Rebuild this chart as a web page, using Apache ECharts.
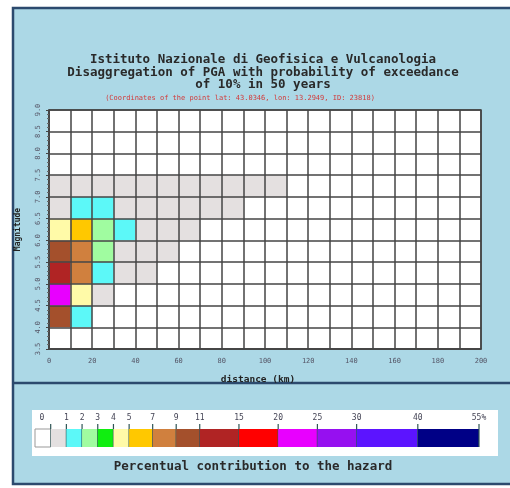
<!DOCTYPE html>
<html lang="en">
<head>
<meta charset="UTF-8">
<script src="https://cdn.jsdelivr.net/npm/echarts@6/dist/echarts.min.js"></script>
<title>Disaggregation</title>
</head>
<body style="margin:0;background:#fff;overflow:hidden;">
<div id="main" style="width:510px;height:488px;"></div>
<script>
// lower edge of each magnitude bin that has some contribution
var magnitudeBins = [4.0, 4.5, 5.0, 5.5, 6.0, 6.5, 7.0];
// contribution (%) for each magnitude bin, one value per 10 km distance bin starting at 0 km
var contribution = [
    [9.3, 1.2],
    [20.8, 4.1, 0.3],
    [12.1, 7.3, 1.5, 0.3, 0.3],
    [9.6, 7.6, 2.2, 0.3, 0.3, 0.3],
    [4.3, 5.6, 2.4, 1.3, 0.3, 0.3, 0.3],
    [0.3, 1.4, 1.1, 0.3, 0.3, 0.3, 0.3, 0.3, 0.3],
    [0.3, 0.3, 0.3, 0.3, 0.3, 0.3, 0.3, 0.3, 0.3, 0.3, 0.3]
];
// colour scale: first entry is exactly 0, then (edge[i-1], edge[i]]
var legendEdges = [0, 1, 2, 3, 4, 5, 7, 9, 11, 15, 20, 25, 30, 40, 55];
var legendLabels = ['0', '1', '2', '3', '4', '5', '7', '9', '11', '15', '20', '25', '30', '40', '55%'];
var legendColors = ['#ffffff', '#e4e0e0', '#5cf8f8', '#a0fca0', '#10ee10', '#fffaa8', '#ffc800',
    '#d0803e', '#a4502c', '#b02424', '#ff0000', '#e800ff', '#9610f0', '#5c14ff', '#000086'];

var distStep = 10, magStep = 0.5;
var mono = '"DejaVu Sans Mono", monospace';

function colorOf(v) {
    if (v <= 0) return legendColors[0];
    for (var i = 1; i < legendEdges.length; i++) {
        if (v <= legendEdges[i]) return legendColors[i];
    }
    return legendColors[legendColors.length - 1];
}

var cells = [];
magnitudeBins.forEach(function (m, r) {
    contribution[r].forEach(function (v, c) {
        cells.push([c * distStep, m, v]);
    });
});

// legend boxes are wider for wider classes (layout only)
function slotWidth(span) {
    if (span <= 1) return 1;
    if (span <= 2) return 1.5;
    if (span <= 5) return 2.5;
    return 3.9;
}
var legendBoxes = [];
var pos = 0;
legendColors.forEach(function (c, i) {
    var w = i === 0 ? 1 : slotWidth(legendEdges[i] - legendEdges[i - 1]);
    legendBoxes.push([pos, pos + w, i]);
    pos += w;
});
var legendTotal = pos;

var myChart = echarts.init(document.getElementById('main'));
var option = {
    animation: false,
    graphic: [
        { type: 'rect', z: -2, shape: { x: 13, y: 8, width: 700, height: 476 },
          style: { fill: '#acd8e6', stroke: '#2c4a6e', lineWidth: 2.5 } },
        { type: 'line', z: -1, shape: { x1: 13, y1: 383, x2: 600, y2: 383 },
          style: { stroke: '#2c4a6e', lineWidth: 2.5 } },
        { type: 'rect', z: -1, shape: { x: 32, y: 410, width: 466, height: 46 },
          style: { fill: '#ffffff' } },
        { type: 'text', x: 263, y: 60, style: { text: 'Istituto Nazionale di Geofisica e Vulcanologia',
          font: 'bold 12.5px ' + mono, fill: '#2a2a2a', align: 'center', verticalAlign: 'middle' } },
        { type: 'text', x: 263, y: 73, style: { text: 'Disaggregation of PGA with probability of exceedance',
          font: 'bold 12.5px ' + mono, fill: '#2a2a2a', align: 'center', verticalAlign: 'middle' } },
        { type: 'text', x: 263, y: 85, style: { text: 'of 10% in 50 years',
          font: 'bold 12.5px ' + mono, fill: '#2a2a2a', align: 'center', verticalAlign: 'middle' } },
        { type: 'text', x: 240, y: 98, style: { text: '(Coordinates of the point lat: 43.0346, lon: 13.2949, ID: 23818)',
          font: '7px ' + mono, fill: '#d23a3a', align: 'center', verticalAlign: 'middle' } },
        { type: 'text', x: 253, y: 467, style: { text: 'Percentual contribution to the hazard',
          font: 'bold 12.5px ' + mono, fill: '#2a2a2a', align: 'center', verticalAlign: 'middle' } }
    ],
    grid: [
        { left: 49, top: 110, width: 432, height: 239, show: true, backgroundColor: '#fff',
          borderColor: '#444', borderWidth: 1.5 },
        { left: 35, top: 429, width: 444, height: 18 }
    ],
    xAxis: [
        {
            type: 'value', min: 0, max: 200, interval: 20, z: 3,
            name: 'distance (km)', nameLocation: 'middle', nameGap: 26,
            nameTextStyle: { fontFamily: mono, fontWeight: 'bold', fontSize: 9.5, color: '#222', padding: [0, 14, 0, 0] },
            axisLine: { lineStyle: { color: '#444', width: 1.5 } },
            axisTick: { show: false },
            axisLabel: { fontFamily: mono, fontSize: 7, color: '#556', margin: 9 },
            splitLine: { show: true, lineStyle: { color: '#444', width: 1.5 } },
            minorTick: { show: false, splitNumber: 2 },
            minorSplitLine: { show: true, lineStyle: { color: '#444', width: 1.5 } }
        },
        { gridIndex: 1, type: 'value', min: 0, max: legendTotal, show: false }
    ],
    yAxis: [
        {
            type: 'value', min: 3.5, max: 9.0, interval: 0.5, z: 3,
            name: 'Magnitude', nameLocation: 'middle', nameGap: 27, nameRotate: 90,
            nameTextStyle: { fontFamily: mono, fontWeight: 'bold', fontSize: 8, color: '#222' },
            axisLine: { show: true, lineStyle: { color: '#444', width: 1.5 } },
            axisTick: { show: true, length: 3, lineStyle: { color: '#444' } },
            minorTick: { show: true, splitNumber: 5, length: 2, lineStyle: { color: '#666' } },
            axisLabel: { fontFamily: mono, fontSize: 7, color: '#556', rotate: 90, margin: 7,
                formatter: function (v) { return v.toFixed(1); } },
            splitLine: { show: true, lineStyle: { color: '#444', width: 1.5 } }
        },
        { gridIndex: 1, type: 'value', min: 0, max: 1, show: false }
    ],
    series: [
        {
            type: 'custom',
            z: 2,
            data: cells,
            renderItem: function (params, api) {
                var p0 = api.coord([api.value(0), api.value(1) + magStep]);
                var p1 = api.coord([api.value(0) + distStep, api.value(1)]);
                return {
                    type: 'rect',
                    shape: { x: p0[0], y: p0[1], width: p1[0] - p0[0], height: p1[1] - p0[1] },
                    style: { fill: colorOf(api.value(2)) }
                };
            }
        },
        {
            type: 'custom',
            xAxisIndex: 1,
            yAxisIndex: 1,
            data: legendBoxes,
            renderItem: function (params, api) {
                var i = api.value(2);
                var a = api.coord([api.value(0), 1]);
                var b = api.coord([api.value(1), 0]);
                var children = [{
                    type: 'rect',
                    shape: { x: a[0], y: a[1], width: b[0] - a[0], height: b[1] - a[1] },
                    style: { fill: legendColors[i], stroke: i === 0 ? '#999' : null, lineWidth: 1 }
                }, {
                    type: 'line',
                    shape: { x1: b[0], y1: a[1] - 5, x2: b[0], y2: b[1] },
                    style: { stroke: '#2f5555', lineWidth: 1.2 }
                }, {
                    type: 'text',
                    x: i === 0 ? (a[0] + b[0]) / 2 - 1 : b[0],
                    y: a[1] - 11,
                    style: { text: legendLabels[i], font: '8px ' + mono, fill: '#445',
                        align: 'center', verticalAlign: 'middle' }
                }];
                return { type: 'group', children: children };
            }
        }
    ]
};
myChart.setOption(option);
</script>
</body>
</html>
